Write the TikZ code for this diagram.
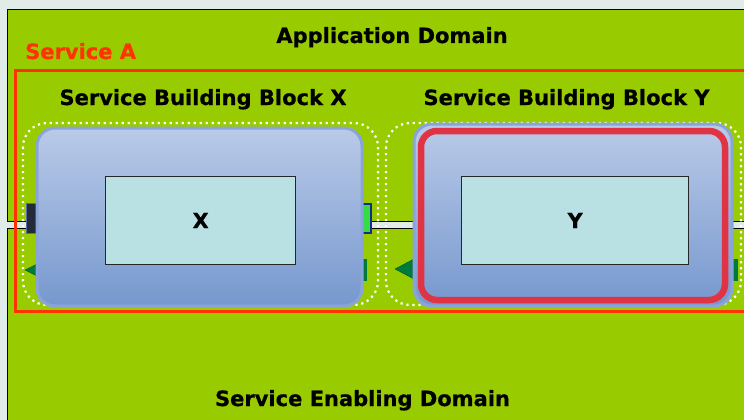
\documentclass[tikz,border=0pt]{standalone}
\usepackage{fontspec}
\setmainfont{DejaVu Sans}[BoldFeatures={FakeBold=0.6}]
\definecolor{bgc}{HTML}{E1EBE7}
\definecolor{dom}{HTML}{99CC00}
\definecolor{srv}{HTML}{FF3300}
\definecolor{ybord}{HTML}{E03444}
\definecolor{inner}{HTML}{B9E1E3}
\definecolor{dgreen}{HTML}{007A3D}
\definecolor{navy}{HTML}{232A3A}
\definecolor{navyb}{HTML}{5A6AA8}
\definecolor{lgreen}{HTML}{33DD44}
\definecolor{plugb}{HTML}{1A2A8A}
\definecolor{btop}{HTML}{BACAE8}
\definecolor{bbot}{HTML}{7698CE}
\definecolor{bedge}{HTML}{8AA4DA}
\tikzset{
  lbl/.style={font=\fontsize{21}{21}\selectfont\bfseries, inner sep=0pt, anchor=base},
  domainbox/.style={draw=black, line width=1.2pt, fill=dom},
  dotbox/.style={draw=white, line width=2.2pt, dash pattern=on 2.2pt off 3.8pt, rounded corners=24pt},
  bluebox/.style={draw=bedge, line width=3pt, top color=btop, bottom color=bbot, rounded corners=18pt},
  innerbox/.style={draw=black!85, line width=1.3pt, fill=inner},
  tri/.style={fill=dgreen, draw=dgreen!70!black, line width=0.4pt},
}
\begin{document}
\begin{tikzpicture}[x=1pt,y=-1pt]
\useasboundingbox (0,0) rectangle (744,420);
\fill[bgc] (0,0) rectangle (744,420);
% domains
\draw[domainbox] (7.5,9.5) rectangle (760,221.5);
\draw[domainbox] (7.5,228.5) rectangle (760,440);
% service A
\draw[srv, line width=3pt] (15,71) rectangle (760,311);
% dotted groups
\draw[dotbox] (23,123) rectangle (378,305);
\draw[dotbox] (386,123) rectangle (741,305);
% plugs and triangles
\draw[fill=navy, draw=navyb, line width=1pt] (26,203) rectangle (36,233);
\fill[tri] (25,270) -- (37,264) -- (37,276) -- cycle;
\draw[fill=lgreen, draw=plugb, line width=1.2pt] (361,204) rectangle (371,233);
\fill[dgreen] (362,259) rectangle (367,281);
\fill[tri] (395,269) -- (414,259) -- (414,279) -- cycle;
\fill[dgreen] (733,259) rectangle (738,281);
% box X
\path[bluebox] (37,128) rectangle (362,306);
\node[innerbox, minimum width=190pt, minimum height=88pt, anchor=north west] (ix) at (105,176) {};
% box Y
\path[bluebox] (414,124) rectangle (732,306);
\draw[ybord, line width=6.5pt, rounded corners=16pt] (421,131) rectangle (725,300);
\node[innerbox, minimum width=227pt, minimum height=88pt, anchor=north west] (iy) at (461,176) {};
% texts
\node[lbl] (app) at (392,43) {Application Domain};
\node[lbl, anchor=base west, text=srv] (sa) at (25,59) {Service A};
\node[lbl] (sbx) at (203,105) {Service Building Block X};
\node[lbl] (sby) at (566.5,105) {Service Building Block Y};
\node[lbl] (sed) at (362.5,406) {Service Enabling Domain};
\node[lbl] (tx) at (ix.center) [yshift=-7.5pt] {X};
\node[lbl] (ty) at (iy.center) [yshift=-7.5pt] {Y};
\end{tikzpicture}
\end{document}
